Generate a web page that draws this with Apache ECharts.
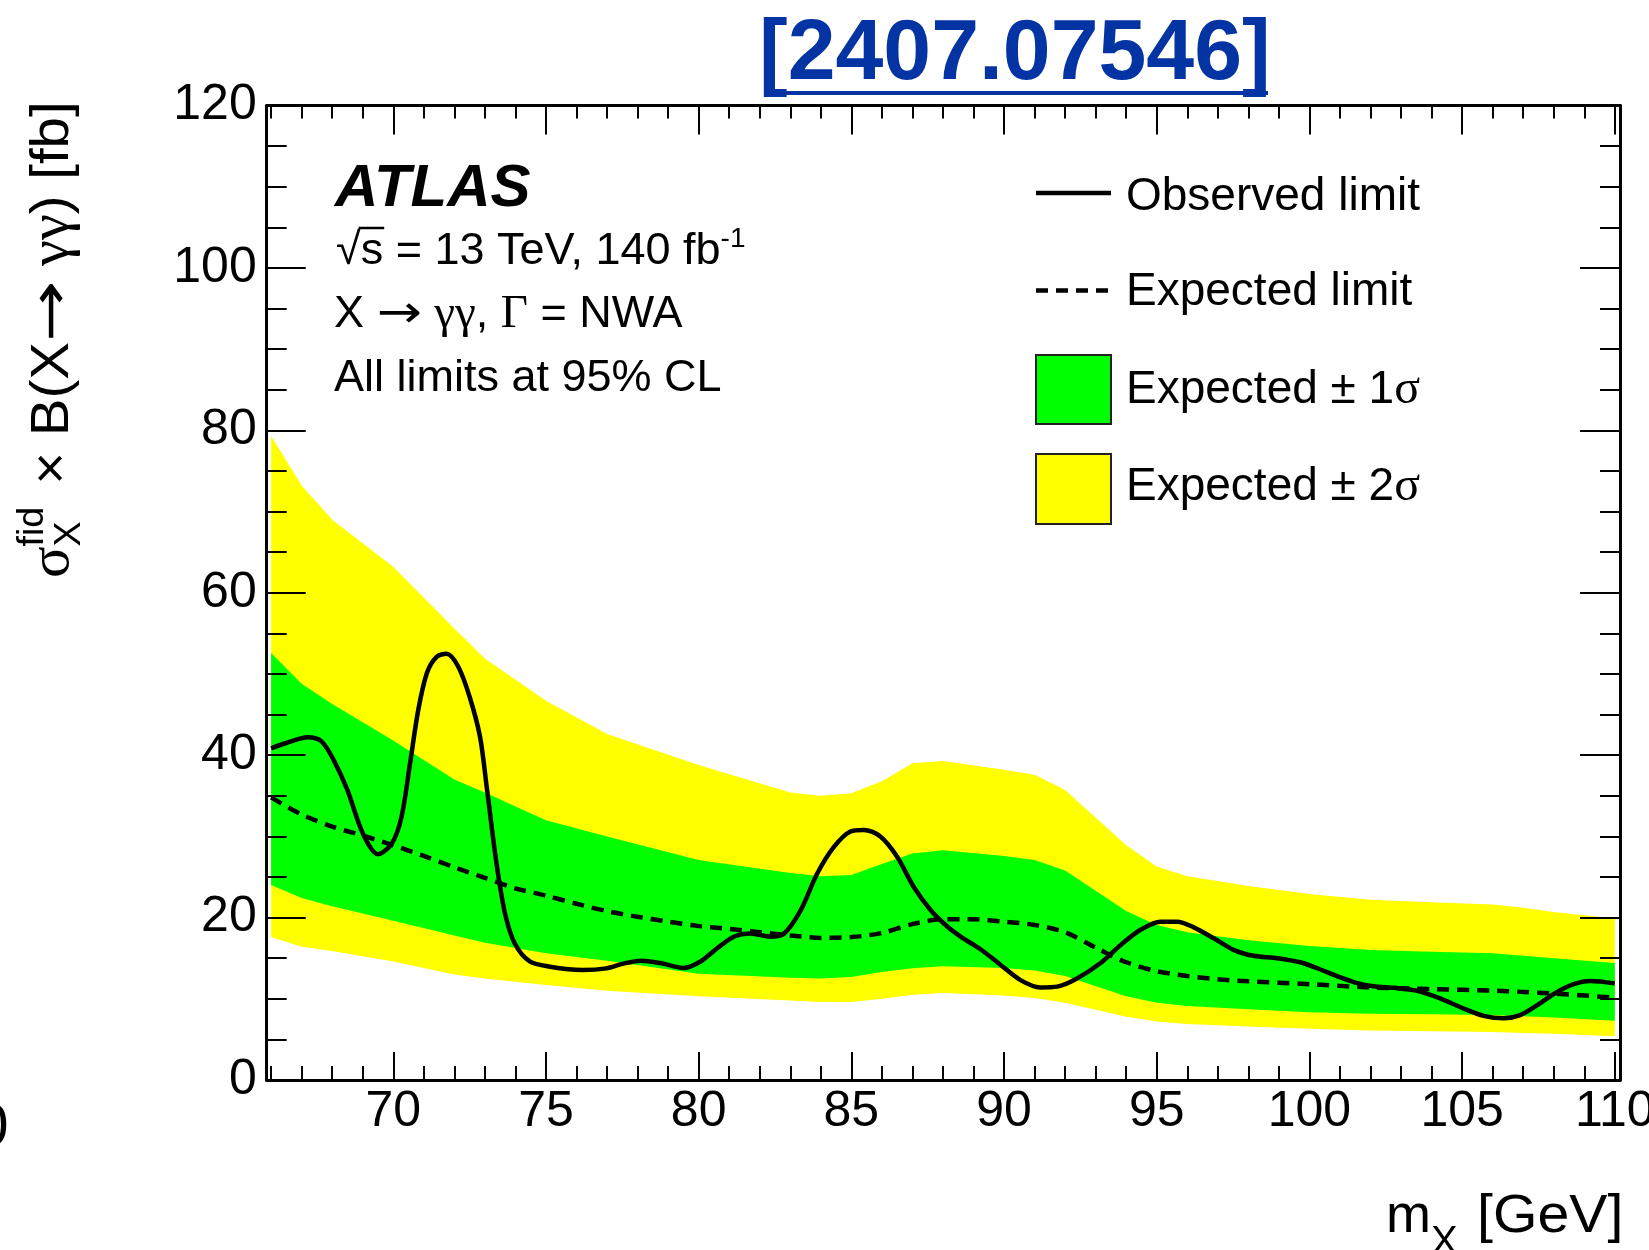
<!DOCTYPE html>
<html><head><meta charset="utf-8">
<script src="https://cdn.jsdelivr.net/npm/echarts@6/dist/echarts.min.js"></script>
<style>html,body{margin:0;padding:0;background:#fff}#c{width:1649px;height:1250px}</style>
</head><body><div id="c"></div>
<script>
// ---------------- data ----------------
const massBand = [66,67,68,70,72,73,75,77,80,83,84,85,86,87,88,90,91,92,94,95,96,98,100,102,104,106,107,108,110];
const band2Up  = [79.3,73.2,69.0,63.2,55.6,51.9,46.7,42.6,38.8,35.4,35.0,35.3,36.8,39.0,39.3,38.2,37.6,35.7,28.9,26.3,25.1,23.9,22.9,22.2,21.9,21.6,21.2,20.7,19.9];
const band1Up  = [52.6,48.8,46.3,41.8,37.0,35.4,32.0,30.0,27.1,25.5,25.1,25.25,26.6,27.9,28.3,27.6,27.1,25.8,20.8,19.1,18.2,17.2,16.5,16.0,15.8,15.6,15.3,15.0,14.4];
const band1Dn  = [24.0,22.4,21.4,19.6,17.8,16.9,15.6,14.7,13.1,12.6,12.5,12.7,13.3,13.75,14.0,13.8,13.5,12.8,10.3,9.5,9.1,8.7,8.35,8.15,8.1,8.0,7.85,7.7,7.3];
const band2Dn  = [17.6,16.4,15.9,14.6,13.0,12.5,11.7,11.0,10.3,9.8,9.6,9.6,10.0,10.5,10.7,10.4,10.1,9.5,7.8,7.2,6.9,6.6,6.3,6.1,6.0,5.9,5.8,5.7,5.4];

const expMass  = [66,67,68,69,70,71,72,73,74,75,76,77,78,79,80,81,82,83,84,85,86,87,88,89,90,91,92,93,94,95,96,97,98,100,102,104,106,107,108,110];
const expected = [34.8,32.7,31.2,30.1,28.9,27.6,26.2,24.9,23.6,22.7,21.7,20.8,20.1,19.5,18.95,18.6,18.2,17.8,17.5,17.6,18.1,19.2,19.8,19.8,19.5,19.1,18.2,16.3,14.5,13.4,12.8,12.4,12.15,11.8,11.4,11.2,11.0,10.85,10.65,10.15];

const obsMass  = [66.0,66.5,67.2,67.65,68.05,68.5,69.0,69.5,69.95,70.27,70.55,70.82,71.1,71.42,71.75,72.13,72.5,72.84,73.06,73.38,73.66,73.98,74.47,75.13,76.2,76.98,77.5,78.1,78.75,79.5,80.06,80.6,81.15,81.7,82.35,82.8,83.34,83.88,84.43,84.97,85.41,85.95,86.5,87.04,87.6,88.14,88.6,89.23,89.88,90.54,91.19,91.74,92.39,93.16,93.81,94.47,95.12,95.67,96.21,96.87,97.53,98.17,98.94,99.7,100.3,100.9,101.5,102.1,102.8,103.5,104.28,105.05,105.7,106.36,106.9,107.45,108.0,108.65,109.2,110.0];
const observed = [40.85,41.5,42.2,41.7,39.4,35.7,30.4,27.8,29.1,32.4,39.0,45.6,50.1,52.1,52.5,50.9,47.2,42.3,36.1,26.7,20.5,16.8,14.6,13.95,13.55,13.75,14.3,14.7,14.4,13.8,14.6,16.2,17.65,18.05,17.65,18.05,20.9,25.4,28.7,30.6,30.8,30.0,27.5,23.8,20.9,18.9,17.6,16.1,14.2,12.3,11.4,11.5,12.5,14.4,16.6,18.5,19.5,19.5,18.8,17.45,16.0,15.3,15.0,14.5,13.7,12.8,12.0,11.55,11.35,11.0,10.05,8.8,7.9,7.6,8.0,9.2,10.6,11.8,12.2,11.9];

const xMajorTicks = [70,75,80,85,90,95,100,105,110];
const xMinorTicks = [66,67,68,69,71,72,73,74,76,77,78,79,81,82,83,84,86,87,88,89,91,92,93,94,96,97,98,99,101,102,103,104,106,107,108,109];
const yMajorTicks = [0,20,40,60,80,100,120];
const yMinorTicks = [5,10,15,25,30,35,45,50,55,65,70,75,85,90,95,105,110,115];

const legendLabels = ['Observed limit','Expected limit','Expected \u00b1 1','Expected \u00b1 2'];

// ---------------- layout / style ----------------
const XMIN = 65.856, XMAX = 110.17, YMIN = 0, YMAX = 120;
const SANS = '"Liberation Sans", Arial, Helvetica, sans-serif';
const SERIF = '"Liberation Serif", "Times New Roman", serif';
const ARROW = '"DejaVu Sans", sans-serif';
const YELLOW = '#ffff00', GREEN = '#00ff00';

const mctx = document.createElement('canvas').getContext('2d');
function fstr(r){ return (r.italic?'italic ':'') + (r.bold?'bold ':'') + r.size + 'px ' + r.family; }
function measure(r){
  mctx.font = fstr(r); mctx.textBaseline = 'middle';
  const m = mctx.measureText(r.t);
  let off = (typeof m.alphabeticBaseline === 'number' && m.alphabeticBaseline !== 0) ? Math.abs(m.alphabeticBaseline) : 0.345 * r.size;
  return {w: m.width * (r.sx || 1), off};
}
// runs placed along a baseline; r.stack: sup/sub share start x
function textRuns(runs, x0, base, color) {
  const els = []; let x = x0; let stackStart = null, stackMax = 0;
  for (const r of runs) {
    const {w, off} = measure(r);
    let rx = x;
    if (r.stack === 'first') { stackStart = x; stackMax = 0; }
    if (r.stack) rx = stackStart;
    const el = {type:'text', x: rx + (r.dx||0), y: base + (r.dy||0) - off, silent:true,
      style:{text:r.t, font:fstr(r), fill: color||'#000', textAlign:'left', align:'left', textVerticalAlign:'middle', verticalAlign:'middle'}};
    if (r.sx) el.scaleX = r.sx;
    els.push(el);
    if (r.stack) { stackMax = Math.max(stackMax, w); x = stackStart + stackMax + (r.gap||0); }
    else x = rx + (r.dx||0) + w + (r.gap||0);
  }
  return els;
}

const tickStyle = {color:'#000', width:2};
const lineStyleAxis = {color:'#000', width:3};
function xAx(pos, ticks, len, showLine, showLabel) {
  return {type:'value', min:XMIN, max:XMAX, position:pos, z:10,
    axisLine:{show:showLine, onZero:false, lineStyle:lineStyleAxis},
    axisTick:{show:true, inside:true, length:len, lineStyle:tickStyle, customValues:ticks},
    axisLabel:showLabel ? {show:true, customValues:ticks, color:'#000', fontSize:50, fontFamily:SANS, margin:4, lineHeight:56} : {show:false},
    splitLine:{show:false}, minorTick:{show:false}};
}
function yAx(pos, ticks, len, showLine, showLabel) {
  return {type:'value', min:YMIN, max:YMAX, position:pos, z:10,
    axisLine:{show:showLine, onZero:false, lineStyle:lineStyleAxis},
    axisTick:{show:true, inside:true, length:len, lineStyle:tickStyle, customValues:ticks},
    axisLabel:showLabel ? {show:true, customValues:ticks, color:'#000', fontSize:50, fontFamily:SANS, margin:10} : {show:false},
    splitLine:{show:false}, minorTick:{show:false}};
}

function bandSeries(name, upper, lower, color, z) {
  return {name, type:'custom', coordinateSystem:'cartesian2d', xAxisIndex:0, yAxisIndex:0, z, silent:true,
    data:[[massBand[0], upper[0]]],
    renderItem(params, api) {
      const pts = [];
      for (let i = 0; i < massBand.length; i++) pts.push(api.coord([massBand[i], upper[i]]));
      for (let i = massBand.length - 1; i >= 0; i--) pts.push(api.coord([massBand[i], lower[i]]));
      return {type:'polygon', shape:{points:pts}, style:{fill:color, stroke:null}};
    }};
}
const zip = (a, b) => a.map((v, i) => [v, b[i]]);

// ---------------- graphic texts ----------------
const g = [];
// title
g.push({type:'text', x:759, y:85 - 0.345*86, silent:true,
  style:{text:'[2407.07546]', font:'bold 86px ' + SANS, fill:'#0433a3', textAlign:'left', align:'left', textVerticalAlign:'middle', verticalAlign:'middle'}});
g.push({type:'line', silent:true, shape:{x1:764, y1:93, x2:1268, y2:93}, style:{stroke:'#0433a3', lineWidth:4}});

// y-axis title (rotated)
const yTitleRuns = [
  {t:'\u03c3', size:56, family:SERIF},
  {t:'fid', size:36, family:SANS, dy:-25, stack:'first'},
  {t:'X', size:36, family:SANS, dy:12, stack:'next', gap:6},
  {t:' \u00d7 B(X', size:54, family:SANS},
  {t:'\u2192', size:54, family:ARROW, sx:1.3},
  {t:' \u03b3\u03b3', size:56, family:SERIF},
  {t:') [fb]', size:54, family:SANS}
];
g.push({type:'group', x:68, y:578, rotation:Math.PI/2, scaleX:1.045, children:textRuns(yTitleRuns, 0, 0)});

// x-axis title
g.push(...textRuns([{t:'m', size:54, family:SANS}], 1386, 1232));
g.push(...textRuns([{t:'X', size:40, family:SANS}], 1431, 1254));
g.push(...textRuns([{t:'[GeV]', size:54, family:SANS, sx:1.06}], 1477, 1232));

// stray glyph at left edge
g.push({type:'text', x:8.5, y:1149 - 0.345*60, silent:true,
  style:{text:'0', font:'60px ' + SANS, fill:'#000', textAlign:'right', align:'right', textVerticalAlign:'middle', verticalAlign:'middle'}});

// ATLAS block
g.push(...textRuns([{t:'ATLAS', size:60, family:SANS, bold:true, italic:true}], 335, 205.6));
g.push(...textRuns([
  {t:'\u221as = 13 TeV, 140 fb', size:45, family:SANS},
  {t:'-1', size:28, family:SANS, dy:-17}], 336, 264));
(function(){
  const wr = measure({t:'\u221a', size:45, family:SANS}).w;
  const ws = measure({t:'\u221as', size:45, family:SANS}).w;
  g.push({type:'line', silent:true, shape:{x1:336 + wr - 2, y1:228, x2:336 + ws + 1, y2:228}, style:{stroke:'#000', lineWidth:2.5}});
})();
g.push(...textRuns([
  {t:'X ', size:45, family:SANS},
  {t:'\u2192', size:45, family:ARROW, sx:1.2},
  {t:' ', size:45, family:SANS},
  {t:'\u03b3\u03b3', size:47, family:SERIF},
  {t:', ', size:45, family:SANS},
  {t:'\u0393', size:47, family:SERIF},
  {t:' = NWA', size:45, family:SANS}], 334, 327.4));
g.push(...textRuns([{t:'All limits at 95% CL', size:45, family:SANS}], 334, 390.6));

// legend
g.push({type:'line', silent:true, shape:{x1:1036, y1:193, x2:1111, y2:193}, style:{stroke:'#000', lineWidth:4.5}});
g.push({type:'line', silent:true, shape:{x1:1036, y1:290.6, x2:1111, y2:290.6}, style:{stroke:'#000', lineWidth:4.5, lineDash:[12,8]}});
g.push({type:'rect', silent:true, shape:{x:1036, y:355, width:75, height:69}, style:{fill:GREEN, stroke:'#222', lineWidth:2}});
g.push({type:'rect', silent:true, shape:{x:1036, y:454, width:75, height:70}, style:{fill:YELLOW, stroke:'#222', lineWidth:2}});
g.push(...textRuns([{t:legendLabels[0], size:46, family:SANS}], 1126, 209.6));
g.push(...textRuns([{t:legendLabels[1], size:46, family:SANS}], 1126, 304.5));
g.push(...textRuns([{t:legendLabels[2], size:46, family:SANS},{t:'\u03c3', size:48, family:SERIF}], 1126, 402.5));
g.push(...textRuns([{t:legendLabels[3], size:46, family:SANS},{t:'\u03c3', size:48, family:SERIF}], 1126, 500));

// ---------------- chart ----------------
const chart = echarts.init(document.getElementById('c'), null, {renderer:'canvas'});
chart.setOption({
  animation:false,
  backgroundColor:'#fff',
  grid:{left:266.7, top:105.6, right:29, bottom:170, containLabel:false, outerBoundsMode:'none'},
  xAxis:[
    xAx('bottom', xMajorTicks, 28, true, true),
    xAx('bottom', xMinorTicks, 14, false, false),
    xAx('top', xMajorTicks, 29, true, false),
    xAx('top', xMinorTicks, 13, false, false)
  ],
  yAxis:[
    yAx('left', yMajorTicks, 39, true, true),
    yAx('left', yMinorTicks, 20, false, false),
    yAx('right', yMajorTicks, 40, true, false),
    yAx('right', yMinorTicks, 20, false, false)
  ],
  series:[
    bandSeries('Expected \u00b1 2\u03c3', band2Up, band2Dn, YELLOW, 1),
    bandSeries('Expected \u00b1 1\u03c3', band1Up, band1Dn, GREEN, 2),
    {name:'Expected limit', type:'line', xAxisIndex:0, yAxisIndex:0, z:3, data:zip(expMass, expected),
      showSymbol:false, symbol:'none', smooth:0.3, silent:true,
      lineStyle:{color:'#000', width:4.5, type:[12,8]}},
    {name:'Observed limit', type:'line', xAxisIndex:0, yAxisIndex:0, z:4, data:zip(obsMass, observed),
      showSymbol:false, symbol:'none', smooth:0.3, silent:true,
      lineStyle:{color:'#000', width:4.5}}
  ],
  graphic:{elements:g}
});
</script>
</body></html>
